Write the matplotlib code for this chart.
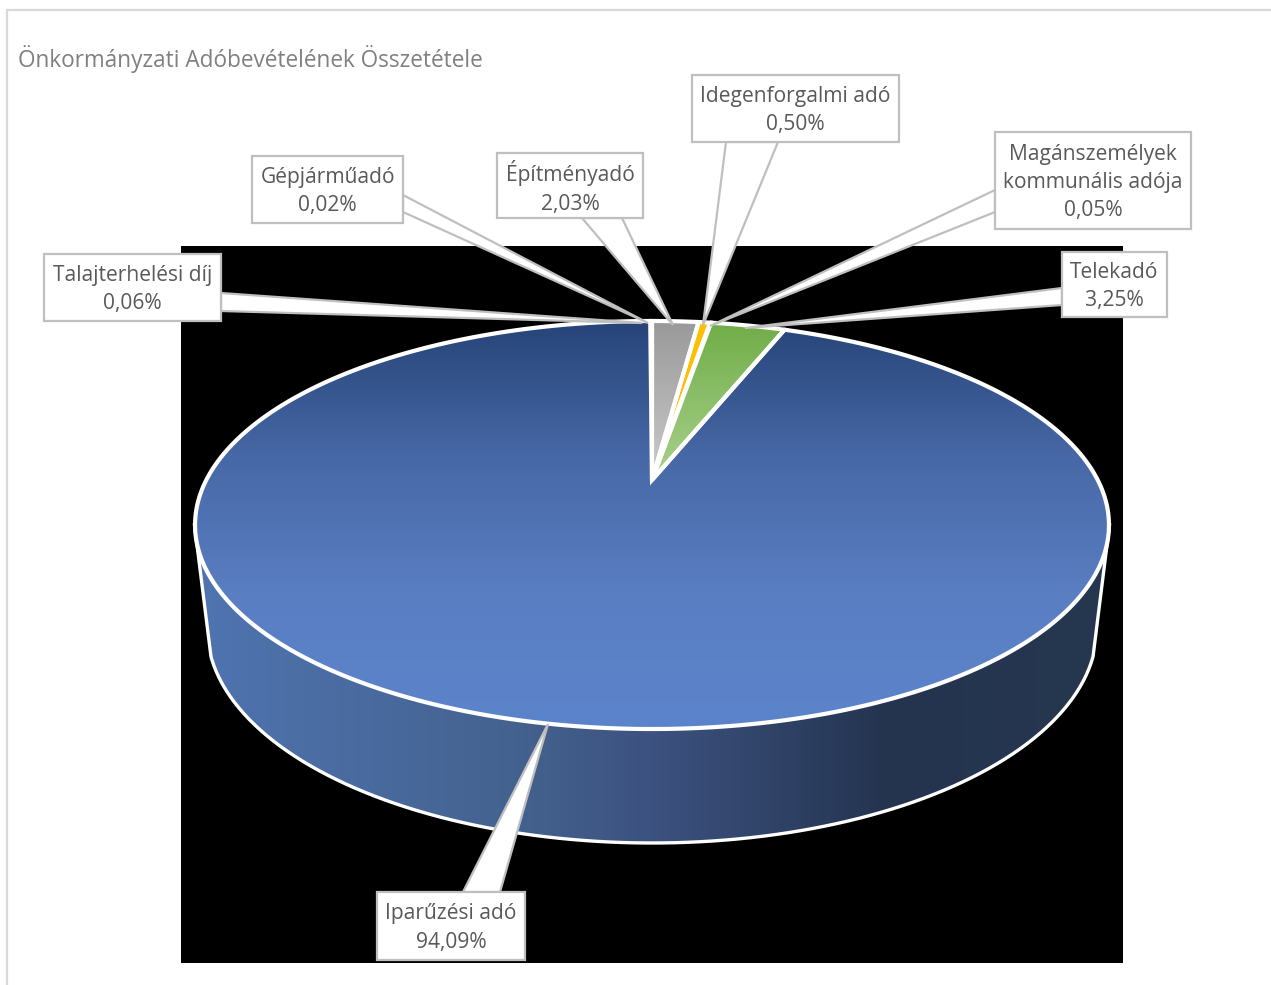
import numpy as np
import matplotlib
matplotlib.use('Agg')
import matplotlib.pyplot as plt
from matplotlib.colors import LinearSegmentedColormap
from matplotlib.patches import Polygon, Rectangle

# slices, clockwise, first one starts at the right edge of the green slice
names = ['Iparűzési adó', 'Talajterhelési díj', 'Gépjárműadó', 'Építményadó',
         'Idegenforgalmi adó', 'Magánszemélyek\nkommunális adója', 'Telekadó']
values = [94.09, 0.06, 0.02, 2.03, 0.50, 0.05, 3.25]
labels = ['94,09%', '0,06%', '0,02%', '2,03%', '0,50%', '0,05%', '3,25%']
slice_colors = [['#264478', '#4768a6', '#5a7ec2', '#5c84cc'],
                ['#a5a5a5', '#a5a5a5'],
                ['#a5a5a5', '#a5a5a5'],
                ['#999999', '#cbcbcb'],
                ['#ffc000', '#ffb612'],
                ['#ffc000', '#ffc000'],
                ['#70ad47', '#a9d18e']]
start_deg = 21.0

# callouts: box x0,y0,x1,y1 / two leader base points / tip
boxes = [(377, 892, 525, 960), (44, 254, 221, 321), (252, 156, 403, 223), (497, 153, 643, 218),
         (692, 75, 899, 142), (995, 132, 1191, 229), (1062, 252, 1167, 317)]
bases = [((463, 892), (500, 892)), ((221, 293), (221, 311)), ((403, 195), (403, 212)),
         ((582, 218), (622, 218)), ((726, 142), (778, 142)), ((995, 190), (995, 212)),
         ((1062, 288), (1062, 305))]
tips = [(548, 724), (642, 323), (648, 323), (673, 325), (703, 325), (710, 326), (745, 328)]

# perspective of the top face
CX, K = 652.0, 445.7
A, B, C = -88.2, 480.0, 0.2206


def project(theta):
    u, v = np.sin(theta), np.cos(theta)
    d = 1 + C * v
    return CX + K * u / d, (A * v + B) / d


def gradient(ax, poly, colors):
    cmap = LinearSegmentedColormap.from_list('g', colors)
    x0, y0 = poly.min(axis=0)
    x1, y1 = poly.max(axis=0)
    g = np.linspace(0, 1, 256)[:, None]
    im = ax.imshow(g, cmap=cmap, extent=(x0, x1, y1, y0), aspect='auto', zorder=3,
                   interpolation='bilinear')
    im.set_clip_path(Polygon(poly, transform=ax.transData))


fig = plt.figure(figsize=(12.71, 9.85), dpi=100)
ax = fig.add_axes([0, 0, 1, 1])
ax.axis('off')

# chart frame, runs off the right and bottom
ax.add_patch(Rectangle((7, 10), 1400, 1100, fc='white', ec='#d9d9d9', lw=1.6, zorder=0))
ax.add_patch(Rectangle((181, 246), 942, 717, fc='black', ec='none', zorder=1))

# side wall
cx_t, cy_t, rx_t, ry_t = 652, 525, 457.5, 204
cx_b, cy_b, rx_b, ry_b = 652, 628, 445, 215
t = np.linspace(np.pi / 2, 3 * np.pi / 2, 200)
upper = np.column_stack([cx_t + rx_t * np.sin(t), cy_t - ry_t * np.cos(t)])
lim = np.arcsin(441 / 445)
t2 = np.linspace(np.pi - lim, np.pi + lim, 200)
lower = np.column_stack([cx_b + rx_b * np.sin(t2), cy_b - ry_b * np.cos(t2)])
side = np.vstack([upper, lower[::-1]])
cmap = LinearSegmentedColormap.from_list('side', [(0, '#4f74b0'), (0.35, '#44628f'), (0.5, '#3c5280'),
                                                  (0.76, '#24344f'), (1, '#26374f')])
g = np.linspace(0, 1, 512)[None, :]
im = ax.imshow(g, cmap=cmap, extent=(195, 1110, 850, 525), aspect='auto', zorder=2)
im.set_clip_path(Polygon(side, transform=ax.transData))
rim = np.vstack([upper[0], lower, upper[-1]])
ax.plot(rim[:, 0], rim[:, 1], color='white', lw=2.4, zorder=2.5)

# top face slices, from the values
pos = np.radians(start_deg)
for val, colors in zip(values, slice_colors):
    end = pos + val / 100 * 2 * np.pi
    n = max(3, int(val * 8))
    th = np.linspace(pos, end, n)
    x, y = project(th)
    poly = np.vstack([[CX, B], np.column_stack([x, y])])
    gradient(ax, poly, colors)
    ax.add_patch(Polygon(poly, closed=True, fc='none', ec='white', lw=3 if val > 0.3 else 1.5,
                         joinstyle='miter', zorder=4))
    pos = end

# callouts
for name, lab, box, base, tip in zip(names, labels, boxes, bases, tips):
    x0, y0, x1, y1 = box
    ax.add_patch(Polygon([base[0], tip, base[1]], closed=True, fc='white', ec='#bfbfbf', lw=1.6,
                         joinstyle='miter', zorder=5))
    ax.add_patch(Rectangle((x0, y0), x1 - x0, y1 - y0, fc='white', ec='#bfbfbf', lw=1.6, zorder=6))
    ax.text((x0 + x1) / 2, (y0 + y1) / 2 + 2, name + '\n' + lab, ha='center', va='center', fontsize=15.1,
            color='#595959', family='Open Sans', linespacing=1.45, zorder=7)

ax.text(18, 59, 'Önkormányzati Adóbevételének Összetétele', ha='left', va='center', fontsize=16.3,
        color='#808080', family='Open Sans', zorder=7)

ax.set_xlim(0, 1271)
ax.set_ylim(985, 0)
fig.savefig('out.png', dpi=100)
